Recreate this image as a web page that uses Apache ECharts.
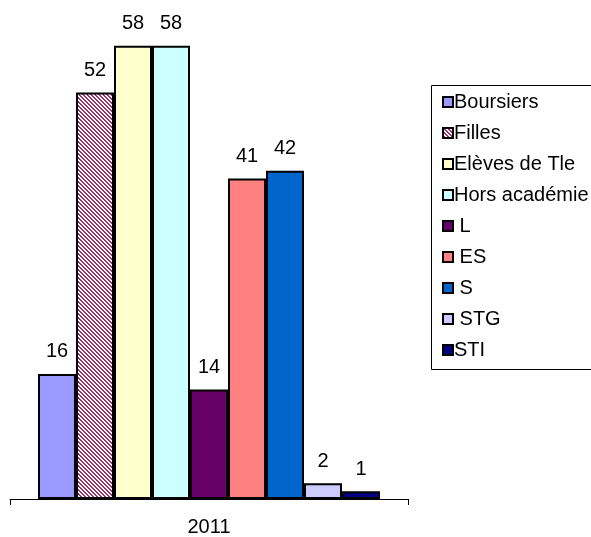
<!DOCTYPE html>
<html><head><meta charset="utf-8">
<script src="https://cdn.jsdelivr.net/npm/echarts@6/dist/echarts.min.js"></script>
<style>html,body{margin:0;padding:0;background:#fff}#c{width:591px;height:537px}</style>
</head><body><div id="c"></div>
<script>
const categories = ['2011'];
const seriesNames = ['Boursiers','Filles','Elèves de Tle','Hors académie','L','ES','S','STG','STI'];
const seriesValues = [16, 52, 58, 58, 14, 41, 42, 2, 1];
const seriesColors = ['#9999FF','pattern','#FFFFCC','#CCFFFF','#660066','#FF8080','#0066CC','#CCCCFF','#000080'];
const spacedNames = ['L','ES','S','STG'];

function stripePattern(){
  const c = document.createElement('canvas');
  c.width = 4; c.height = 4;
  const ctx = c.getContext('2d');
  const img = ctx.createImageData(4,4);
  for (let y=0;y<4;y++) for (let x=0;x<4;x++){
    const i=(y*4+x)*4;
    const on = ((x - y) % 4 + 4) % 4 < 2;
    if (on){ img.data[i]=0x99; img.data[i+1]=0x33; img.data[i+2]=0x66; }
    else { img.data[i]=255; img.data[i+1]=255; img.data[i+2]=255; }
    img.data[i+3]=255;
  }
  ctx.putImageData(img,0,0);
  return {image: c, repeat: 'repeat'};
}
const pat = stripePattern();
const font = 'Liberation Sans, Arial, sans-serif';

const chart = echarts.init(document.getElementById('c'), null, {renderer:'canvas'});
chart.setOption({
  animation: false,
  backgroundColor: '#fff',
  grid: {left: 10, right: 183, top: 30, bottom: 37, containLabel: false},
  xAxis: {
    type: 'category', data: categories,
    axisLine: {lineStyle: {color: '#000', width: 1}},
    axisTick: {show: true, length: 6, lineStyle: {color: '#000'}},
    axisLabel: {color: '#000', fontSize: 20, fontFamily: font, margin: 18}
  },
  yAxis: {type: 'value', min: 0, max: 60, show: false, splitLine: {show: false}},
  legend: {
    orient: 'vertical', left: 437, top: 87, itemWidth: 10, itemHeight: 10, itemGap: 11,
    icon: 'rect',
    textStyle: {color: '#000', fontSize: 20, fontFamily: font, padding: [0,0,0,-4], lineHeight: 20},
    formatter: n => spacedNames.includes(n) ? ' ' + n : n
  },
  graphic: [{type: 'rect', left: 429, top: 83, shape: {width: 300, height: 284},
    style: {fill: 'none', stroke: '#000', lineWidth: 1}, silent: true, z: -1}],
  series: seriesNames.map((n, i) => ({
    name: n, type: 'bar', barWidth: 38, barGap: '0%',
    data: [seriesValues[i]],
    itemStyle: {color: seriesColors[i] === 'pattern' ? pat : seriesColors[i], borderColor: '#000', borderWidth: 2},
    label: {show: true, position: 'top', distance: 12, color: '#000', fontSize: 20, fontFamily: font}
  }))
});
</script></body></html>
